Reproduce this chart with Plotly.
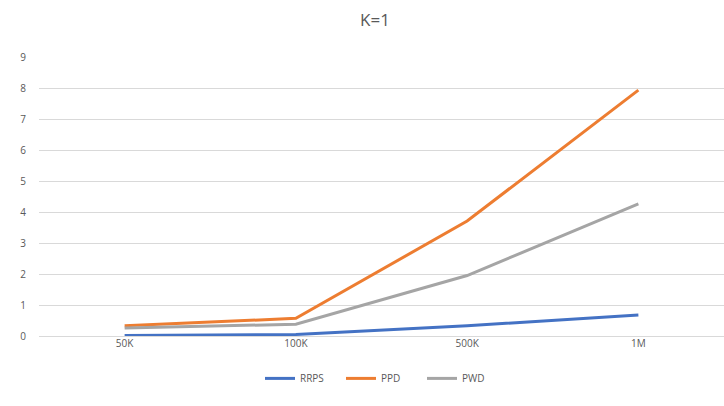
import plotly.graph_objects as go

# Dataset sizes on the category axis
categories = ["50K", "100K", "500K", "1M"]

# Measured values for each method
rrps = [0.02, 0.05, 0.33, 0.68]
ppd = [0.33, 0.57, 3.71, 7.93]
pwd = [0.26, 0.38, 1.95, 4.26]

y_ticks = list(range(0, 10))

series = [
    ("RRPS", rrps, "#4472C4"),
    ("PPD", ppd, "#ED7D31"),
    ("PWD", pwd, "#A5A5A5"),
]

x_pos = list(range(len(categories)))

fig = go.Figure()
for name, values, color in series:
    fig.add_trace(go.Scatter(
        x=x_pos, y=values, name=name, mode="lines",
        line=dict(color=color, width=3),
    ))

text_color = "#595959"
grid_color = "#D9D9D9"

fig.update_layout(
    width=724, height=406,
    margin=dict(l=39, r=0, t=57, b=70),
    paper_bgcolor="white", plot_bgcolor="white",
    title=dict(text="K=1", x=0.518, xanchor="center", y=0.95, yanchor="middle",
               font=dict(family="Open Sans", size=17, color=text_color)),
    font=dict(family="Open Sans", size=10, color=text_color),
    showlegend=True,
    legend=dict(orientation="h", x=0.5, xanchor="center", y=-0.1, yanchor="top",
                font=dict(size=10, color=text_color), itemwidth=30,
                entrywidth=36, entrywidthmode="pixels"),
    xaxis=dict(
        range=[-0.5, 3.5], tickmode="array", tickvals=x_pos, ticktext=categories,
        showgrid=False, zeroline=False, showline=False, ticks="",
        tickfont=dict(size=10, color=text_color),
    ),
    yaxis=dict(
        range=[0, 9], tickmode="array", tickvals=y_ticks,
        showgrid=True, gridcolor=grid_color, gridwidth=1,
        zeroline=True, zerolinecolor=grid_color, zerolinewidth=1,
        showline=False, ticks="", ticklabelstandoff=12,
        tickfont=dict(size=10, color=text_color),
    ),
)

fig.write_html("out.html")
